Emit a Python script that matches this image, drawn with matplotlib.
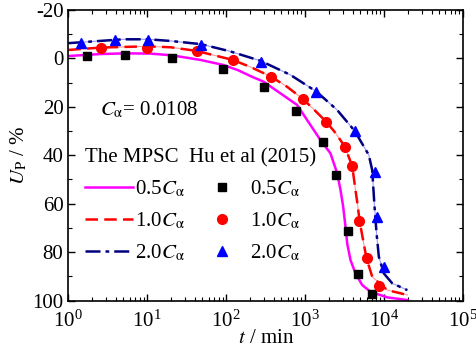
import matplotlib
matplotlib.use("Agg")
from matplotlib import pyplot as plt

plt.rcParams['font.family'] = ['Liberation Serif', 'DejaVu Serif']
plt.rcParams['mathtext.fontset'] = 'stix'
plt.rcParams['axes.unicode_minus'] = False

# model curves (The MPSC)
t_05 = [1, 2.52, 5.29, 10.9, 20.3, 46.9, 92, 140, 210, 298, 791, 1563, 2094, 2547, 2806, 3034, 3248,
        3412, 3760, 4345, 5287, 6745, 10990, 19700]
u_05 = [-1.0, -1.8, -2.1, -2.0, -1.3, 0.6, 2.7, 4.8, 7.5, 9.6, 19.2, 33.7, 39.2, 47.4, 54.3, 61.2, 69.5,
        76.4, 83.3, 88.8, 93.6, 96.4, 98.7, 99.8]

t_10 = [1, 2.62, 9.97, 20, 42.1, 120.6, 202, 370, 596, 933, 1312, 1846, 2426, 3184, 3948, 4345, 4660,
        4886, 5995, 7090, 10990, 19700]
u_10 = [-3.5, -4.5, -5.0, -4.6, -3.1, 0.6, 3.5, 7.5, 11.8, 16.7, 21.3, 26.1, 30.8, 36.4, 44.4, 54.3, 61.2,
        67.0, 82.6, 90.2, 95.7, 97.7]

t_20 = [1, 2, 5, 10.3, 20, 47.9, 110, 273, 651, 1391, 2547, 4259, 5546, 6412, 7079, 7576, 8035, 8592,
        9932, 12700, 19700]
u_20 = [-6.3, -7.0, -7.9, -7.9, -7.2, -5.9, -3.0, 1.0, 6.8, 13.7, 21.3, 30.0, 36.4, 39.9, 46.1, 61.2, 72.2,
        81.9, 88.8, 92.9, 95.7]

# Hu et al (2015) data
hu_t_05 = [1.74, 5.29, 20.3, 91.9, 304, 776, 1692, 2473, 3513, 4708, 6940]
hu_u_05 = [-1.0, -1.3, -0.2, 4.3, 11.9, 21.7, 34.6, 48.1, 71.3, 89.2, 97.3]

hu_t_10 = [2.62, 9.97, 42.1, 120.6, 370, 933, 1846, 3184, 3948, 4886, 5995, 8592]
hu_u_10 = [-4.2, -4.3, -3.1, 0.7, 7.5, 16.7, 26.1, 36.4, 44.4, 67.0, 82.6, 93.9]

hu_t_20 = [1.46, 3.88, 10.3, 47.9, 273, 1391, 4259, 7576, 8202, 9932]
hu_u_20 = [-6.5, -7.6, -7.6, -5.6, 1.3, 13.7, 30.0, 47.0, 65.4, 86.0]

fig = plt.figure(figsize=(4.77, 3.5), dpi=100)
ax = fig.add_axes([0.1432, 0.1414, 0.8274, 0.83])

# faint guide lines under the dashed curves
ax.plot(t_10, u_10, color='#ff9999', lw=0.8, zorder=1)
ax.plot(t_20, u_20, color='#9999ff', lw=0.8, zorder=1)

l1, = ax.plot(t_05, u_05, color='#ff00ff', lw=1.8, label=r'0.5$C_{\mathrm{\alpha}}$', zorder=2)
l2, = ax.plot(t_10, u_10, color='#ff0000', lw=1.8, ls=(0, (5, 2.5)), label=r'1.0$C_{\mathrm{\alpha}}$', zorder=2)
l3, = ax.plot(t_20, u_20, color='#000080', lw=1.8, ls=(0, (6, 2, 1.5, 2)), label=r'2.0$C_{\mathrm{\alpha}}$', zorder=2)

m1, = ax.plot(hu_t_05, hu_u_05, 's', color='black', ms=6, ls='none', label=r'0.5$C_{\mathrm{\alpha}}$', zorder=3)
m2, = ax.plot(hu_t_10, hu_u_10, 'o', color='#ff0000', ms=7, ls='none', label=r'1.0$C_{\mathrm{\alpha}}$', zorder=3)
m3, = ax.plot(hu_t_20, hu_u_20, '^', color='#0000ff', ms=7.5, ls='none', label=r'2.0$C_{\mathrm{\alpha}}$', zorder=3)

ax.set_xscale('log')
ax.set_xlim(1, 1e5)
ax.set_ylim(100, -20)
ax.set_yticks([-20, 0, 20, 40, 60, 80, 100])
ax.set_yticks(range(-10, 100, 20), minor=True)
ax.tick_params(which='both', direction='in', top=True, right=True, labelsize=15)
ax.tick_params(which='major', length=5, width=1)
ax.tick_params(which='minor', length=3, width=0.8)
ax.tick_params(axis='x', which='both', pad=7)
for s in ax.spines.values():
    s.set_linewidth(1.2)

ax.set_xlabel(r'$t$ / min', fontsize=15, labelpad=-2)
ax.set_ylabel(r'$U_{\mathrm{P}}$ / %', fontsize=15, labelpad=2)

ax.text(0.08, 0.655, r'$C_{\mathrm{\alpha}}$= 0.0108', transform=ax.transAxes, fontsize=15, va='center')

leg1 = ax.legend(handles=[l1, l2, l3], title='The MPSC', loc='upper left', bbox_to_anchor=(0.005, 0.575),
                 frameon=False, fontsize=15, title_fontsize=15, handlelength=2.3, handletextpad=0.1,
                 labelspacing=0.55, borderpad=0.2, alignment='left')
ax.add_artist(leg1)
leg2 = ax.legend(handles=[m1, m2, m3], title='Hu et al (2015)', loc='upper left', bbox_to_anchor=(0.27, 0.575),
                 frameon=False, fontsize=15, title_fontsize=15, handlelength=1.5, handletextpad=0.6,
                 labelspacing=0.55, borderpad=0.2, numpoints=1)

fig.savefig('out.png', dpi=100)
